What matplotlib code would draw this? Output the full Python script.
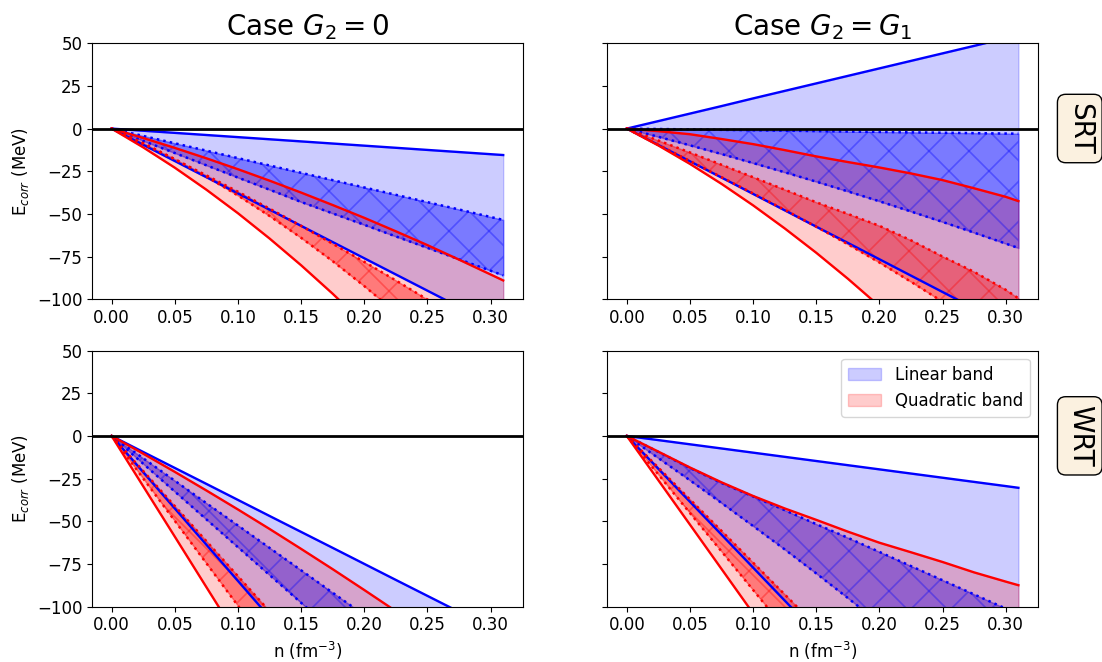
import numpy as np
import matplotlib
matplotlib.use("Agg")
import matplotlib.pyplot as plt
from matplotlib.collections import LineCollection

n_grid = [0.0, 0.025, 0.05, 0.075, 0.10, 0.125, 0.15, 0.175, 0.20,
          0.225, 0.25, 0.275, 0.30, 0.31]

# --- SRT, G2 = 0 ---
srt_g0_lin_hi = [0, -1.25, -2.5, -3.75, -5.0, -6.25, -7.5, -8.75, -10.0,
                 -11.25, -12.5, -13.75, -15.0, -15.5]
srt_g0_lin_lo = [0, -9.5, -19.0, -28.5, -38.0, -47.5, -57.0, -66.5, -76.0,
                 -85.5, -95.0, -104.5, -114.0, -118.0]
srt_g0_lin_core_hi = [0, -4.3, -8.6, -12.9, -17.3, -21.6, -25.9, -30.2, -34.5,
                      -38.8, -43.1, -47.4, -51.8, -53.5]
srt_g0_lin_core_lo = [0, -7.2, -14.3, -21.5, -28.7, -35.8, -43.0, -49.7, -56.4,
                      -63.2, -69.9, -76.6, -83.3, -86.0]
srt_g0_quad_hi = [0, -5.5, -11.3, -17.4, -23.8, -30.5, -37.5, -44.8, -52.3,
                  -60.2, -68.3, -76.8, -85.5, -89.0]
srt_g0_quad_lo = [0, -11.0, -22.9, -35.8, -49.6, -64.4, -80.1, -96.8, -114.5,
                  -133.1, -152.6, -173.1, -194.6, -203.5]
srt_g0_quad_core_hi = [0, -8.9, -18.0, -27.4, -37.0, -46.9, -57.0, -67.5, -78.1,
                       -89.0, -100.2, -111.7, -123.4, -128.1]
srt_g0_quad_core_lo = [0, -8.5, -17.9, -28.1, -39.2, -51.2, -64.0, -77.7, -92.3,
                       -107.8, -124.1, -141.3, -159.4, -166.9]

# --- SRT, G2 = G1 ---
srt_g1_lin_hi = [0, 4.4, 8.8, 13.2, 17.7, 22.1, 26.5, 30.9, 35.3,
                 39.7, 44.1, 48.5, 53.0, 54.7]
srt_g1_lin_lo = [0, -9.6, -19.2, -28.7, -38.3, -47.9, -57.5, -67.0, -76.6,
                 -86.2, -95.8, -105.3, -114.9, -118.7]
srt_g1_lin_core_hi = [0, -0.24, -0.48, -0.73, -0.97, -1.21, -1.45, -1.69, -1.94,
                      -2.18, -2.42, -2.66, -2.9, -3.0]
srt_g1_lin_core_lo = [0, -4.8, -9.8, -14.9, -20.2, -25.6, -31.1, -36.8, -42.6,
                      -48.6, -54.7, -61.0, -67.4, -70.0]
srt_g1_quad_hi = [0, -1.5, -3.3, -6.1, -9.1, -12.6, -16.3, -19.6, -22.8,
                  -26.3, -30.2, -35.0, -40.0, -42.5]
srt_g1_quad_lo = [0, -9.9, -20.7, -32.4, -45.0, -58.5, -72.8, -88.0, -104.1,
                  -121.1, -139.0, -157.7, -177.3, -185.4]
srt_g1_quad_core_hi = [0, -7.0, -14.0, -21.2, -28.5, -35.8, -43.2, -50.0, -57.0,
                       -65.5, -75.0, -84.0, -94.5, -99.5]
srt_g1_quad_core_lo = [0, -9.5, -19.0, -28.5, -38.0, -47.6, -57.5, -67.8, -78.5,
                       -89.8, -101.5, -114.0, -127.0, -132.0]

# --- WRT, G2 = 0 ---
wrt_g0_lin_hi = [0, -9.4, -18.75, -28.1, -37.5, -46.9, -56.25, -65.6, -75.0,
                 -84.4, -93.75, -103.1, -112.5, -116.25]
wrt_g0_lin_lo = [0, -21.25, -42.5, -63.75, -85.0, -106.25, -127.5, -148.75, -170.0,
                 -191.25, -212.5, -233.75, -255.0, -263.5]
wrt_g0_lin_core_hi = [0, -13.1, -26.25, -39.4, -52.5, -65.6, -78.75, -91.9, -105.0,
                      -118.1, -131.25, -144.4, -157.5, -162.75]
wrt_g0_lin_core_lo = [0, -16.3, -32.6, -48.9, -65.2, -81.5, -97.8, -114.1, -130.4,
                      -146.7, -163.0, -179.3, -195.6, -202.1]
wrt_g0_quad_hi = [0, -10.4, -21.05, -31.96, -43.1, -54.5, -66.2, -78.1, -90.3,
                  -102.7, -115.4, -128.3, -141.5, -146.8]
wrt_g0_quad_lo = [0, -29.5, -59.0, -88.6, -118.1, -147.6, -177.2, -206.7, -236.2,
                  -265.7, -295.3, -324.8, -354.3, -366.1]
wrt_g0_quad_core_hi = [0, -20.55, -41.1, -61.65, -82.2, -102.75, -123.3, -143.85, -164.4,
                       -184.95, -205.5, -226.05, -246.6, -254.8]
wrt_g0_quad_core_lo = [0, -24.9, -49.75, -74.6, -99.5, -124.4, -149.25, -174.1, -199.0,
                       -223.9, -248.75, -273.6, -298.5, -308.45]

# --- WRT, G2 = G1 ---
wrt_g1_lin_hi = [0, -2.45, -4.9, -7.35, -9.8, -12.25, -14.7, -17.15, -19.6,
                 -22.05, -24.5, -26.95, -29.4, -30.4]
wrt_g1_lin_lo = [0, -19.3, -38.6, -57.9, -77.2, -96.5, -115.8, -135.1, -154.4,
                 -173.7, -193.0, -212.3, -231.6, -239.3]
wrt_g1_lin_core_hi = [0, -9.4, -18.8, -27.6, -35.5, -43.5, -51.7, -59.7, -68.0,
                      -76.3, -84.6, -92.9, -101.2, -104.5]
wrt_g1_lin_core_lo = [0, -13.0, -26.0, -39.3, -52.8, -66.5, -80.6, -95.0, -109.8,
                      -125.0, -140.5, -156.5, -173.0, -180.0]
wrt_g1_quad_hi = [0, -9.2, -18.5, -27.2, -35.2, -42.5, -49.2, -56.1, -62.6,
                  -68.2, -73.9, -80.0, -85.4, -87.5]
wrt_g1_quad_lo = [0, -26.0, -52.0, -78.0, -104.0, -130.0, -156.0, -182.0, -208.0,
                  -234.0, -260.0, -286.0, -312.0, -322.4]
wrt_g1_quad_core_hi = [0, -18.6, -37.2, -55.7, -74.3, -92.9, -111.5, -130.0, -148.6,
                       -167.2, -185.8, -204.3, -222.9, -230.3]
wrt_g1_quad_core_lo = [0, -22.6, -45.2, -67.7, -90.3, -112.9, -135.5, -158.0, -180.6,
                       -203.2, -225.8, -248.3, -270.9, -279.9]

col_titles = [r"Case $G_2 = 0$", r"Case $G_2 = G_1$"]
row_labels = ["SRT", "WRT"]
x_ticks = [0.00, 0.05, 0.10, 0.15, 0.20, 0.25, 0.30]
y_ticks = [50, 25, 0, -25, -50, -75, -100]

panels = [
    [(srt_g0_lin_hi, srt_g0_lin_lo, srt_g0_lin_core_hi, srt_g0_lin_core_lo,
      srt_g0_quad_hi, srt_g0_quad_lo, srt_g0_quad_core_hi, srt_g0_quad_core_lo),
     (srt_g1_lin_hi, srt_g1_lin_lo, srt_g1_lin_core_hi, srt_g1_lin_core_lo,
      srt_g1_quad_hi, srt_g1_quad_lo, srt_g1_quad_core_hi, srt_g1_quad_core_lo)],
    [(wrt_g0_lin_hi, wrt_g0_lin_lo, wrt_g0_lin_core_hi, wrt_g0_lin_core_lo,
      wrt_g0_quad_hi, wrt_g0_quad_lo, wrt_g0_quad_core_hi, wrt_g0_quad_core_lo),
     (wrt_g1_lin_hi, wrt_g1_lin_lo, wrt_g1_lin_core_hi, wrt_g1_lin_core_lo,
      wrt_g1_quad_hi, wrt_g1_quad_lo, wrt_g1_quad_core_hi, wrt_g1_quad_core_lo)],
]


def cross_hatch(ax, band, color, spacing=0.4):
    # coarse 'x' hatch, drawn in figure inches and clipped to the band polygon
    fig = ax.figure
    w, h = fig.get_size_inches()
    segs = []
    for c in np.arange(-h, w + spacing, spacing):
        segs.append([(c, 0), (c + h, h)])
        segs.append([(c + h, 0), (c, h)])
    lc = LineCollection(segs, colors=color, alpha=0.35, linewidths=1.2,
                        transform=fig.dpi_scale_trans)
    lc.set_clip_path(band.get_paths()[0], ax.transData)
    lc.set_clip_box(ax.bbox)
    ax.add_collection(lc, autolim=False)


fig, axes = plt.subplots(2, 2, figsize=(11.02, 6.62), sharey=True)
fig.subplots_adjust(left=0.0835, right=0.9419, bottom=0.0838, top=0.9346,
                    wspace=0.196, hspace=0.201)

n = np.array(n_grid)
for r in range(2):
    for c in range(2):
        ax = axes[r, c]
        (lin_hi, lin_lo, lin_core_hi, lin_core_lo,
         quad_hi, quad_lo, quad_core_hi, quad_core_lo) = panels[r][c]

        lin_band = ax.fill_between(n, lin_hi, lin_lo, color="blue", alpha=0.2,
                                   label="Linear band")
        core = ax.fill_between(n, lin_core_hi, lin_core_lo, color="blue", alpha=0.4)
        cross_hatch(ax, core, "blue")
        quad_band = ax.fill_between(n, quad_hi, quad_lo, color="red", alpha=0.2,
                                    label="Quadratic band")
        core = ax.fill_between(n, quad_core_hi, quad_core_lo, color="red", alpha=0.4)
        cross_hatch(ax, core, "red")

        ax.plot(n, lin_hi, "-", color="blue", lw=1.7)
        ax.plot(n, lin_lo, "-", color="blue", lw=1.7)
        ax.plot(n, lin_core_hi, ":", color="blue", lw=1.8)
        ax.plot(n, lin_core_lo, ":", color="blue", lw=1.8)
        ax.plot(n, quad_hi, "-", color="red", lw=1.7)
        ax.plot(n, quad_lo, "-", color="red", lw=1.7)
        ax.plot(n, quad_core_hi, ":", color="red", lw=1.8)
        ax.plot(n, quad_core_lo, ":", color="red", lw=1.8)

        ax.axhline(0, color="black", lw=2)

        ax.set_xlim(-0.0155, 0.3255)
        ax.set_ylim(-100, 50)
        ax.set_xticks(x_ticks)
        ax.set_yticks(y_ticks)
        ax.tick_params(labelsize=12)

        if r == 0:
            ax.set_title(col_titles[c], fontsize=20)
        if r == 1:
            ax.set_xlabel(r"n (fm$^{-3}$)", fontsize=12)
        if c == 0:
            ax.set_ylabel(r"E$_{corr}$ (MeV)", fontsize=12)
        if c == 1:
            ax.text(1.097, 0.667, row_labels[r], transform=ax.transAxes,
                    rotation=270, fontsize=20, ha="center", va="center",
                    bbox=dict(boxstyle="round", facecolor=(0.96, 0.87, 0.70, 0.4),
                              edgecolor="black"))
        if r == 1 and c == 1:
            ax.legend(handles=[lin_band, quad_band], loc="upper right", fontsize=12)

fig.savefig("out.png", dpi=100)
